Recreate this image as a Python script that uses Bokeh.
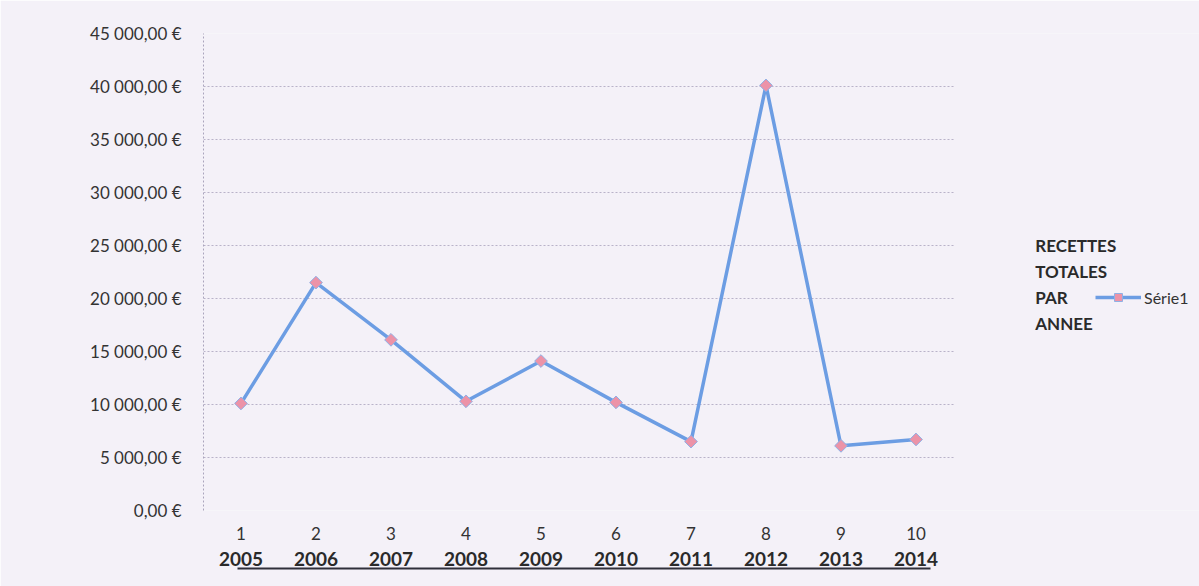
import math
from bokeh.plotting import figure
from bokeh.models import Range1d, LinearAxis, FixedTicker, Legend, LegendItem, Label
from bokeh.embed import file_html
from bokeh.resources import INLINE

# ---- data ----
rangs = [1, 2, 3, 4, 5, 6, 7, 8, 9, 10]
annees = ["2005", "2006", "2007", "2008", "2009", "2010", "2011", "2012", "2013", "2014"]
recettes = [10100, 21500, 16100, 10300, 14100, 10200, 6500, 40100, 6100, 6700]
y_ticks = [0, 5000, 10000, 15000, 20000, 25000, 30000, 35000, 40000, 45000]
y_tick_labels = ["0,00 €", "5 000,00 €", "10 000,00 €", "15 000,00 €", "20 000,00 €",
                 "25 000,00 €", "30 000,00 €", "35 000,00 €", "40 000,00 €", "45 000,00 €"]
serie_name = "Série1"
title_lines = ["RECETTES", "TOTALES", "PAR", "ANNEE"]

# ---- style ----
BG = "#f4f1f8"
FONT = "Lato"
TXT = "#333333"
GRID = "#aaa4bd"
LINE = "#6c9de3"
MARK = "#ec93a8"

PX_PER_CAT = 75.0
FRAME_LEFT = 203
W, H = 1199, 586
x_end = 0.5 + (W - FRAME_LEFT) / PX_PER_CAT

p = figure(width=W, height=H,
           x_range=Range1d(0.5, x_end), y_range=Range1d(0, 45000),
           output_backend="svg", toolbar_location=None,
           min_border_left=FRAME_LEFT, min_border_right=0,
           min_border_top=33, min_border_bottom=76,
           background_fill_color=BG, border_fill_color=BG,
           outline_line_color=None)

# y axis
p.yaxis.ticker = FixedTicker(ticks=y_ticks)
p.yaxis.major_label_overrides = dict(zip(y_ticks, y_tick_labels))
p.yaxis.axis_line_color = GRID
p.yaxis.axis_line_dash = "2 2"
p.yaxis.major_tick_line_color = None
p.yaxis.minor_tick_line_color = None
p.yaxis.major_label_standoff = 16
p.yaxis.major_label_text_font = FONT
p.yaxis.major_label_text_font_size = "17px"
p.yaxis.major_label_text_color = TXT

p.ygrid.grid_line_color = GRID
p.ygrid.grid_line_dash = "2 2"
p.ygrid.grid_line_alpha = 0.8
p.ygrid.cross_bounds = (0.5, 10.5)
p.xgrid.visible = False

# x axis: ranks
p.xaxis.ticker = FixedTicker(ticks=rangs)
p.xaxis.major_label_overrides = {r: str(r) for r in rangs}
p.xaxis.axis_line_color = None
p.xaxis.major_tick_line_color = None
p.xaxis.minor_tick_line_color = None
p.xaxis.major_label_standoff = 10
p.xaxis.major_label_text_font = FONT
p.xaxis.major_label_text_font_size = "17px"
p.xaxis.major_label_text_color = TXT

# x axis: years (bold)
year_axis = LinearAxis(ticker=FixedTicker(ticks=rangs),
                       major_label_overrides=dict(zip(rangs, annees)),
                       axis_line_color=None, major_tick_line_color=None,
                       minor_tick_line_color=None, major_label_standoff=3,
                       major_label_text_font=FONT, major_label_text_font_size="19px",
                       major_label_text_font_style="bold",
                       major_label_text_color="#2a2a2a")
p.add_layout(year_axis, "below")

# underline beneath years
under_axis = LinearAxis(ticker=FixedTicker(ticks=[]),
                        bounds=(rangs[0] - 0.05, rangs[-1] + 0.19),
                        axis_line_color="#2f2f3a", axis_line_width=2,
                        major_tick_line_color=None, minor_tick_line_color=None,
                        major_label_text_font_size="0px")
p.add_layout(under_axis, "below")

# series
line_r = p.line(rangs, recettes, line_color=LINE, line_width=3.5)
mark_r = p.scatter(rangs, recettes, marker="square", angle=math.pi / 4, size=9,
                   fill_color=MARK, line_color="#8fb0e6", line_width=1)

legend = Legend(items=[LegendItem(label=serie_name, renderers=[line_r, mark_r])],
                location=(892, 203), glyph_width=46, glyph_height=20,
                padding=0, margin=0, spacing=0, label_standoff=3,
                background_fill_alpha=0, border_line_color=None,
                label_text_font=FONT, label_text_font_size="16px",
                label_text_color=TXT)
p.add_layout(legend, "center")

# title text block to the right
px_per_unit = 477 / 45000.0
for i, t in enumerate(title_lines):
    p.add_layout(Label(x=11.59, y=25000 - i * 26 / px_per_unit, text=t,
                       text_font=FONT, text_font_size="17px", text_font_style="bold",
                       text_color="#2a2a2a", text_baseline="middle", text_align="left"))

open("out.html", "w").write(file_html(p, INLINE))
